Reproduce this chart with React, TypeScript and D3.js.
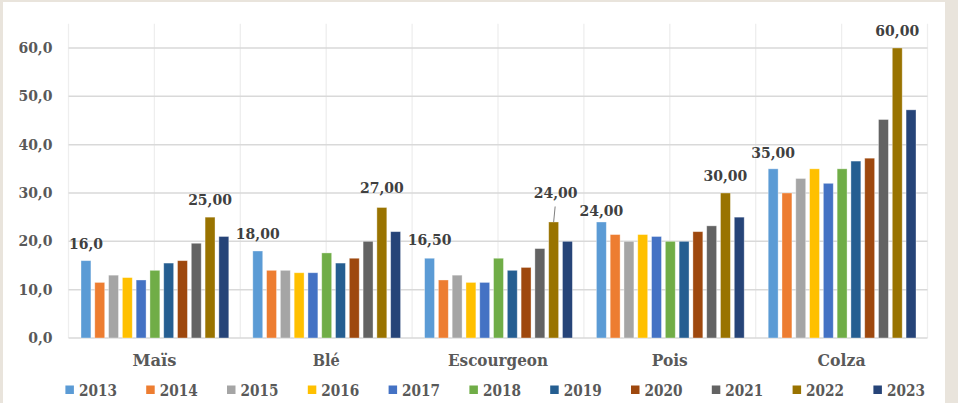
import React from "react";
import * as d3 from "d3";

const categories = ["Maïs", "Blé", "Escourgeon", "Pois", "Colza"];
const years = ["2013", "2014", "2015", "2016", "2017", "2018", "2019", "2020", "2021", "2022", "2023"];
const colors = ["#5B9BD5", "#ED7D31", "#A5A5A5", "#FFC000", "#4472C4", "#70AD47", "#255E91", "#9E480E", "#636363", "#997300", "#264478"];

const maisValues = [16, 11.5, 13, 12.5, 12, 14, 15.5, 16, 19.6, 25, 21];
const bleValues = [18, 14, 14, 13.5, 13.5, 17.6, 15.5, 16.5, 20, 27, 22];
const escourgeonValues = [16.5, 12, 13, 11.5, 11.5, 16.5, 14, 14.6, 18.5, 24, 20];
const poisValues = [24, 21.4, 20, 21.4, 21, 20, 20, 22, 23.2, 30, 25];
const colzaValues = [35, 30, 33, 35, 32, 35, 36.6, 37.2, 45.2, 60, 47.2];
const seriesByCategory = [maisValues, bleValues, escourgeonValues, poisValues, colzaValues];

const yTicks = [0, 10, 20, 30, 40, 50, 60];

// labelled bars: [category index, year index, decimals]
const labelCats = [0, 0, 1, 1, 2, 2, 3, 3, 4, 4];
const labelYears = [0, 9, 0, 9, 0, 9, 0, 9, 0, 9];
const labelDecimals = [1, 2, 2, 2, 2, 2, 2, 2, 2, 2];
// extra vertical lift (px) for each label, and whether it has a leader line
const labelLift = [12, 12.5, 12, 14, 13.5, 24, 6, 12, 11, 12];
const labelLeader = [false, false, false, false, false, true, false, false, false, false];
// rendered width of each category label (condensed face)
const categoryLabelWidths = [44, 27, 100, 36, 48];

const W = 958;
const H = 403;
const FONT = "'DejaVu Serif', serif";

export default function App() {
  const y = d3.scaleLinear().domain([0, 65]).range([338, 23.8]);
  const x0 = d3.scaleBand<string>().domain(categories).range([68.5, 927.5]).padding(0);
  const bw0 = x0.bandwidth();
  const x1 = d3.scaleBand<string>().domain(years).range([12.5, bw0 - 11.5]).paddingInner(0.28);
  const fmt = (v: number, d: number) => d3.format(`.${d}f`)(v).replace(".", ",");

  const vLines: number[] = [];
  categories.forEach((c) => {
    vLines.push(x0(c)!);
    vLines.push(x0(c)! + bw0 / 2);
  });
  vLines.push(x0.range()[1]);

  const legendStart = 65.4;
  const legendStep = 80.8;

  return (
    <svg
      width={W}
      height={H}
      style={{ position: "absolute", left: 0, top: 0, display: "block" }}
    >
      <rect x={0} y={0} width={W} height={H} fill="#E9E4DC" />
      <rect x={3} y={2} width={942} height={H} fill="#FFFFFF" />

      {/* vertical gridlines */}
      {vLines.map((vx, i) => (
        <line key={"v" + i} x1={vx} x2={vx} y1={y(65)} y2={y(0)} stroke="#EEEEEE" strokeWidth={1.3} />
      ))}
      {/* horizontal gridlines */}
      {yTicks.map((t) => (
        <line key={"h" + t} x1={x0.range()[0]} x2={x0.range()[1]} y1={y(t)} y2={y(t)} stroke="#D9D9D9" strokeWidth={1.5} />
      ))}

      {/* y tick labels */}
      {yTicks.map((t) => (
        <text
          key={"t" + t}
          x={52.5}
          y={y(t) + 5}
          textAnchor="end"
          fontFamily={FONT}
          fontWeight="bold"
          fontSize={14}
          fill="#595959"
        >
          {fmt(t, 1)}
        </text>
      ))}

      {/* bars */}
      {categories.map((c, ci) => (
        <g key={c} transform={`translate(${x0(c)},0)`}>
          {years.map((yr, yi) => {
            const v = seriesByCategory[ci][yi];
            return (
              <rect
                key={yr}
                x={x1(yr)}
                y={y(v)}
                width={x1.bandwidth()}
                height={y(0) - y(v)}
                fill={colors[yi]}
                stroke="#FFFFFF"
                strokeOpacity={0.45}
                strokeWidth={0.8}
              />
            );
          })}
        </g>
      ))}

      {/* data labels */}
      {labelCats.map((ci, li) => {
        const yi = labelYears[li];
        const v = seriesByCategory[ci][yi];
        const cx = x0(categories[ci])! + x1(years[yi])! + x1.bandwidth() / 2;
        const top = y(v);
        const base = top - labelLift[li];
        return (
          <g key={"l" + li}>
            {labelLeader[li] && (
              <line x1={cx + 1.5} y1={base + 8.5} x2={cx} y2={top} stroke="#7F7F7F" strokeWidth={1} />
            )}
            <text
              x={cx + (labelLeader[li] ? 2 : 0)}
              y={base}
              textAnchor="middle"
              fontFamily={FONT}
              fontWeight="bold"
              fontSize={14}
              fill="#404040"
            >
              {fmt(v, labelDecimals[li])}
            </text>
          </g>
        );
      })}

      {/* category labels */}
      {categories.map((c, ci) => (
        <text
          key={"c" + c}
          x={x0(c)! + bw0 / 2}
          y={365.5}
          textAnchor="middle"
          fontFamily={FONT}
          fontWeight="bold"
          fontSize={17}
          fill="#595959"
          textLength={categoryLabelWidths[ci]}
          lengthAdjust="spacingAndGlyphs"
        >
          {c}
        </text>
      ))}

      {/* legend */}
      {years.map((yr, i) => {
        const lx = legendStart + i * legendStep;
        return (
          <g key={"lg" + yr}>
            <rect x={lx} y={385.5} width={8.5} height={8.5} fill={colors[i]} />
            <text
              x={lx + 13.5}
              y={396}
              fontFamily={FONT}
              fontWeight="bold"
              fontSize={16}
              fill="#595959"
              textLength={38}
              lengthAdjust="spacingAndGlyphs"
            >
              {yr}
            </text>
          </g>
        );
      })}
    </svg>
  );
}
